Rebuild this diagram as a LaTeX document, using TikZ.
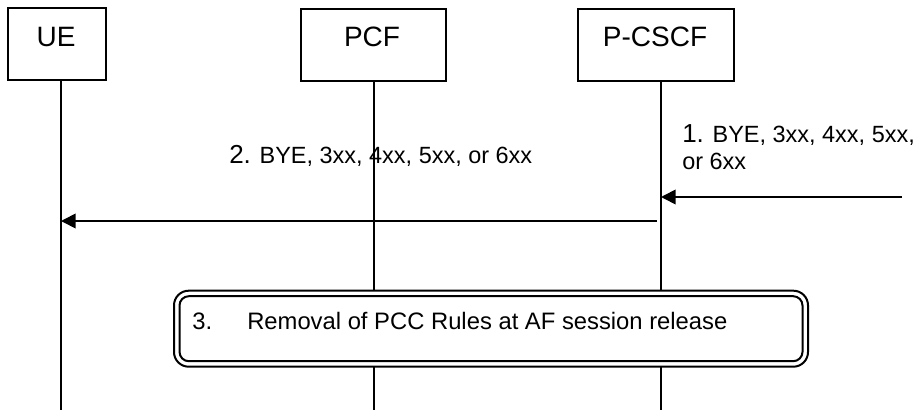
\documentclass[tikz,border=0pt]{standalone}
\usepackage{fontspec}
\setmainfont{Liberation Sans}
\usetikzlibrary{arrows.meta}
\newcommand\mynumsize{\fontsize{19.5}{21}\selectfont}
\begin{document}
\begin{tikzpicture}[x=0.75pt,y=-0.75pt,
  entity/.style={draw,line width=1.1pt,minimum width=#1,inner sep=0pt,minimum height=54pt},
  entitytext/.style={anchor=base,inner sep=0pt,font=\fontsize{21}{25}\selectfont},
  lifeline/.style={line width=1pt},
  msg/.style={line width=1.3pt,-{Triangle[length=11pt,width=11pt]}},
  msgtext/.style={anchor=base west,inner sep=0pt,font=\fontsize{17.6}{21}\selectfont},
  proctext/.style={anchor=base west,inner sep=0pt,font=\fontsize{17.85}{21}\selectfont}]
\useasboundingbox (0,0) rectangle (920,410);
% entity boxes
\node[entity=73.5pt] (ue) at (57,44) {};
\node[entity=108.75pt] (pcf) at (373.5,45) {};
\node[entity=117pt] (pcscf) at (656,45) {};
\node[entitytext] (uet) at (56,47) {UE};
\node[entitytext] (pcft) at (372,47) {PCF};
\node[entitytext] (pcscft) at (655,47) {P-CSCF};
% lifeline ends
\coordinate (ueend) at (61,410);
\coordinate (pcfend) at (374,410);
\coordinate (pcscfend) at (661,410);
\draw[lifeline] (ue.south -| ueend) -- (ueend);
\draw[lifeline] (pcf.south -| pcfend) -- (pcfend);
\draw[lifeline] (pcscf.south -| pcscfend) -- (pcscfend);
% message 1
\coordinate (m1start) at (902,197);
\draw[msg] (m1start) -- (m1start -| pcscfend);
\node[msgtext] (m1a) at (682,142) {{\mynumsize 1.} BYE, 3xx, 4xx, 5xx,};
\node[msgtext] (m1b) at (682,169) {or 6xx};
% message 2
\coordinate (m2start) at (657,221);
\draw[msg] (m2start) -- (m2start -| ueend);
\node[msgtext] (m2) at (229,163) {{\mynumsize 2.} BYE, 3xx, 4xx, 5xx, or 6xx};
% box 3
\node[draw,line width=1.5pt,fill=white,rounded corners=11pt,minimum width=475.5pt,minimum height=57pt,inner sep=0pt] (procouter) at (491,328.7) {};
\node[draw,line width=1.5pt,rounded corners=7pt,minimum width=467.25pt,minimum height=48.75pt,inner sep=0pt] (procinner) at (procouter.center) {};
\node[proctext] (p3n) at (192,329) {3.};
\node[proctext] (p3t) at (247,329) {Removal of PCC Rules at AF session release};
\end{tikzpicture}
\end{document}
